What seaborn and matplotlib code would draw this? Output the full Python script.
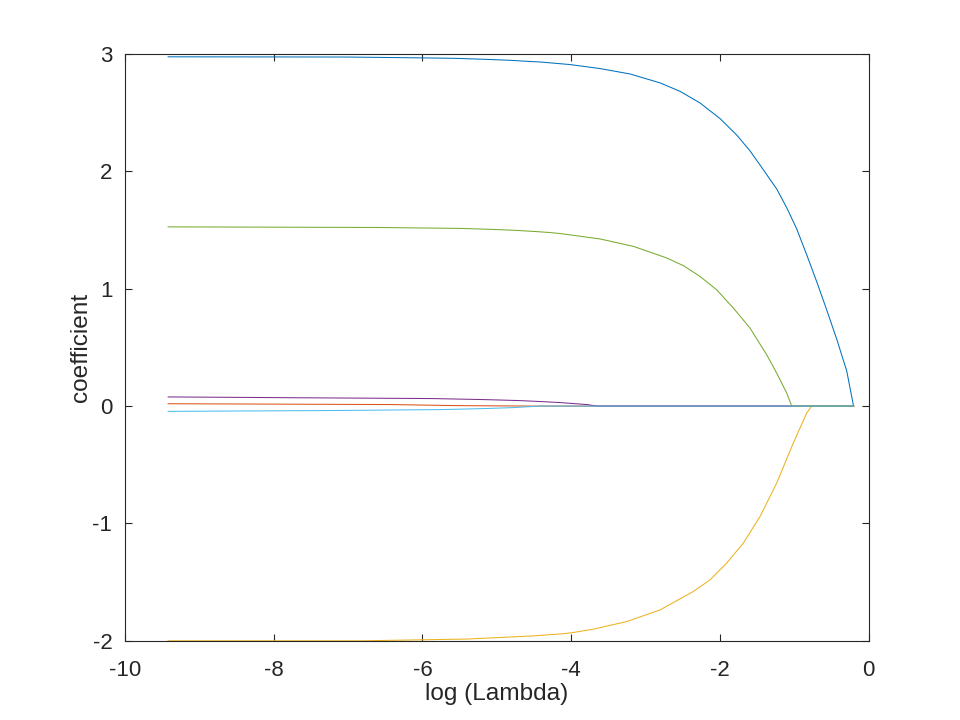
import matplotlib
matplotlib.use("Agg")
import matplotlib.pyplot as plt
import seaborn as sns
import pandas as pd

# ---- data ----
blue_x = [-9.42, -8.0, -7.0, -6.58, -6.0, -5.56, -5.12, -4.81, -4.58, -4.42, -4.016,
          -3.613, -3.21, -2.806, -2.537, -2.269, -2.0, -1.776, -1.597, -1.418, -1.238,
          -1.103, -0.969, -0.835, -0.70, -0.566, -0.431, -0.297, -0.205]
blue_y = [2.976, 2.975, 2.974, 2.971, 2.967, 2.963, 2.954, 2.946, 2.937, 2.932, 2.910,
          2.876, 2.830, 2.754, 2.682, 2.583, 2.45, 2.31, 2.175, 2.014, 1.85,
          1.69, 1.51, 1.29, 1.06, 0.82, 0.57, 0.30, 0.0]

orange_x = [-9.42, -6.42, -5.55, -4.5, -0.2]
orange_y = [0.020, 0.013, 0.004, 0.0, 0.0]

yellow_x = [-9.42, -6.8, -5.4, -5.0, -4.51, -4.15, -4.0, -3.703, -3.254, -2.806, -2.359,
            -2.134, -1.91, -1.687, -1.462, -1.238, -1.015, -0.835, -0.767, -0.2]
yellow_y = [-2.0, -2.0, -1.985, -1.973, -1.958, -1.942, -1.932, -1.901, -1.836, -1.737, -1.580,
            -1.481, -1.338, -1.168, -0.941, -0.656, -0.315, -0.060, 0.0, 0.0]

purple_x = [-9.42, -8.2, -5.86, -5.15, -4.70, -4.39, -4.15, -3.96, -3.79, -3.65, -0.2]
purple_y = [0.078, 0.073, 0.064, 0.055, 0.047, 0.038, 0.030, 0.021, 0.013, 0.0, 0.0]

green_x = [-9.42, -6.63, -5.48, -5.04, -4.73, -4.5, -4.31, -4.145, -3.612, -3.165, -2.716,
           -2.49, -2.269, -2.045, -1.82, -1.597, -1.372, -1.238, -1.103, -1.036, -0.2]
green_y = [1.527, 1.522, 1.514, 1.505, 1.497, 1.488, 1.48, 1.470, 1.424, 1.361, 1.262,
           1.196, 1.105, 0.991, 0.835, 0.665, 0.437, 0.281, 0.111, 0.0, 0.0]

cyan_x = [-9.42, -7.24, -5.76, -5.155, -4.78, -4.5, -4.45, -0.2]
cyan_y = [-0.045, -0.038, -0.030, -0.021, -0.013, -0.003, 0.0, 0.0]

series_names = ["c1", "c2", "c3", "c4", "c5", "c6"]
series_colors = ["#0072BD", "#D95319", "#EDB120", "#7E2F8E", "#77AC30", "#4DBEEE"]

x_ticks = [-10, -8, -6, -4, -2, 0]
y_ticks = [-2, -1, 0, 1, 2, 3]

# ---- build long-form table ----
frames = []
for name, xs, ys in zip(series_names,
                        [blue_x, orange_x, yellow_x, purple_x, green_x, cyan_x],
                        [blue_y, orange_y, yellow_y, purple_y, green_y, cyan_y]):
    frames.append(pd.DataFrame({"x": xs, "y": ys, "s": name}))
df = pd.concat(frames, ignore_index=True)

sns.set_style("white")
plt.rcParams["font.family"] = ["Liberation Sans", "DejaVu Sans"]

fig = plt.figure(figsize=(9.6, 7.2), dpi=100)
ax = fig.add_axes([0.13, 0.11, 0.775, 0.815])

sns.lineplot(data=df, x="x", y="y", hue="s", hue_order=series_names,
             palette=series_colors, linewidth=0.75, legend=False, ax=ax,
             estimator=None, sort=False)

ax.set_xlim(-10, 0)
ax.set_ylim(-2, 3)
ax.set_xticks(x_ticks)
ax.set_yticks(y_ticks)
ax.set_xticklabels([str(t) for t in x_ticks])
ax.set_yticklabels([str(t) for t in y_ticks])

for sp in ax.spines.values():
    sp.set_visible(True)
    sp.set_color("#262626")
    sp.set_linewidth(0.8)

ax.tick_params(axis="both", which="both", direction="in", length=5, width=0.8,
               color="#262626", labelcolor="#262626", labelsize=16,
               top=True, right=True, bottom=True, left=True)
ax.tick_params(axis="x", pad=14)
ax.tick_params(axis="y", pad=9)

ax.set_xlabel("log (Lambda)", fontsize=17.6, color="#262626", labelpad=1)
ax.set_ylabel("coefficient", fontsize=17.6, color="#262626", labelpad=0)

fig.savefig("out.png", dpi=100, facecolor="white")
